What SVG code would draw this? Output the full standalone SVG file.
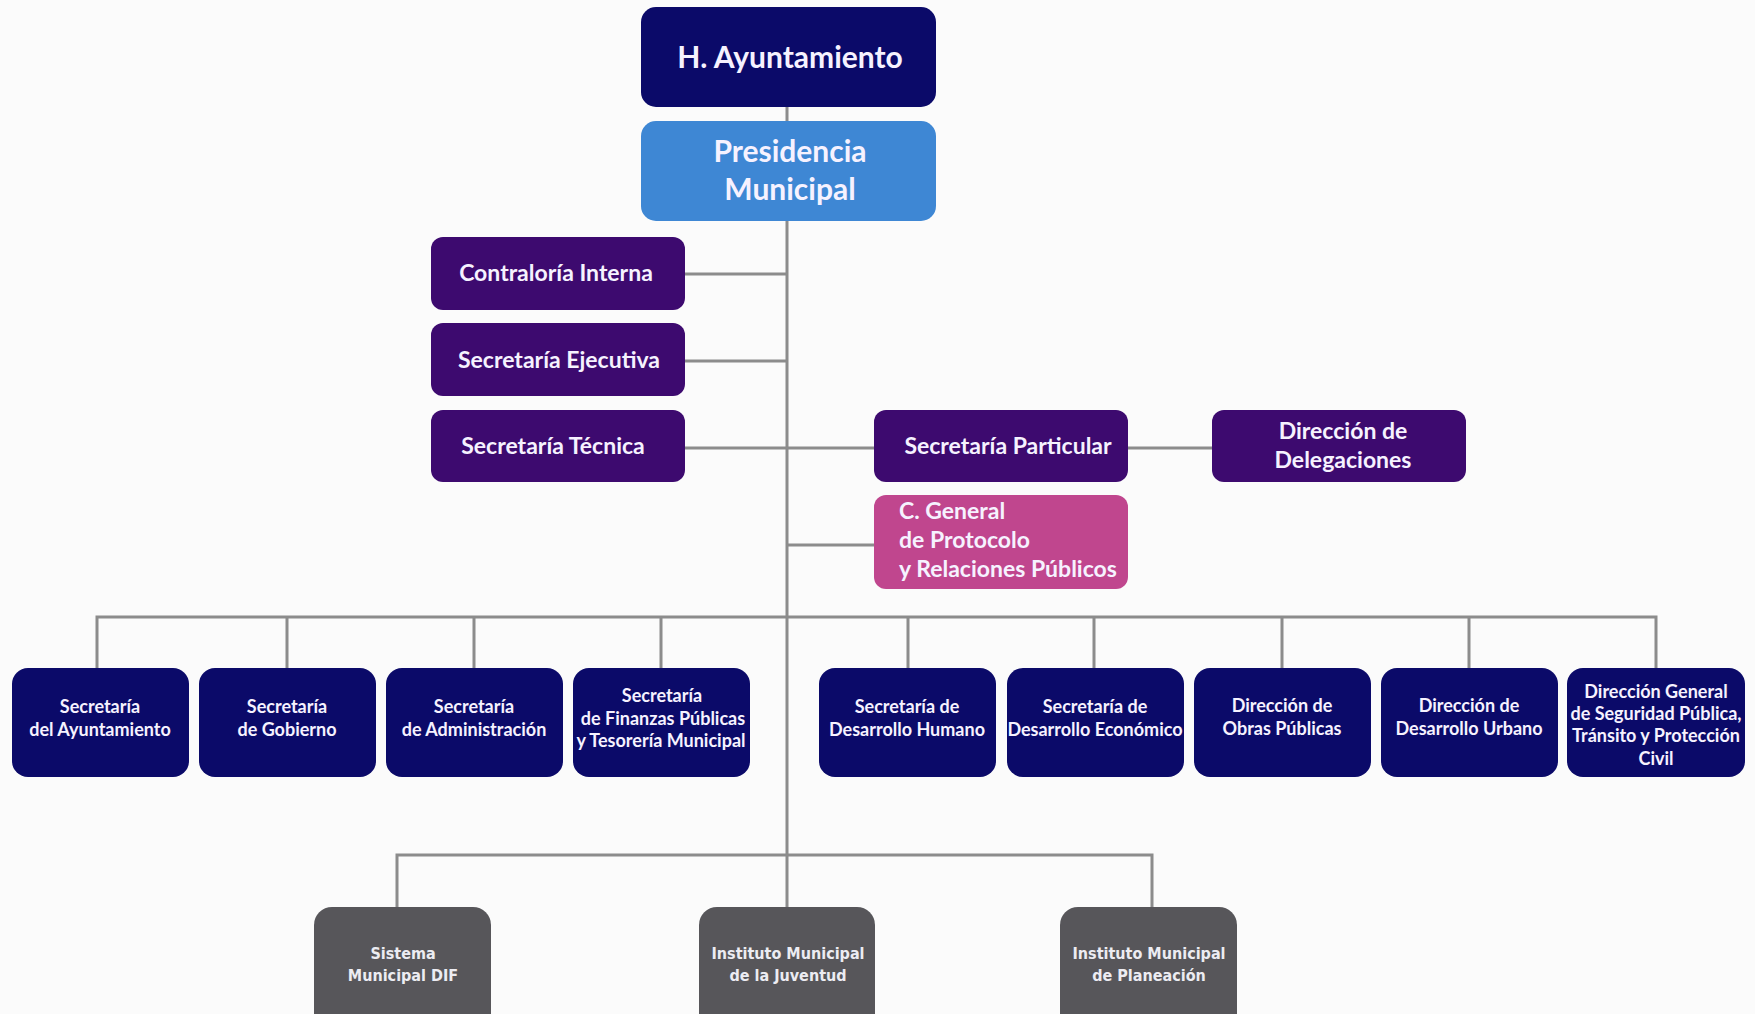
<svg xmlns="http://www.w3.org/2000/svg" width="1755" height="1014" viewBox="0 0 1755 1014">
<style>
.bg{fill:#fbfbfb}
.navy{fill:#0b0a69}
.blue{fill:#3e87d4}
.purple{fill:#3d0a6f}
.pink{fill:#c0468e}
.gray{fill:#57565a}
.t{font-family:Lato,"Open Sans","Liberation Sans",sans-serif;font-weight:bold;fill:#f6f2ff;text-anchor:middle}
.t1{font-size:30px}
.t2{font-size:23px}
.t3{font-size:18px}
.tl{text-anchor:start}
.tg{font-family:"DejaVu Sans Condensed","Liberation Sans Narrow","Liberation Sans",sans-serif;font-size:16px;font-weight:bold;fill:#ececf2;text-anchor:middle}
.c{stroke:#8c8c8c;stroke-width:3;fill:none}
</style>
<rect class="bg" x="0" y="0" width="1755" height="1014"/>
<g id="connectors">
<path class="c" d="M787 107V907"/>
<path class="c" d="M685 274H787M685 361H787M685 448H874M1128 448H1212M787 545H874"/>
<path class="c" d="M97 668V617H1656V668M287 617V668M474 617V668M661 617V668M908 617V668M1094 617V668M1282 617V668M1469 617V668"/>
<path class="c" d="M397 907V855H1152V907"/>
</g>
<g id="n-ayuntamiento"><rect class="navy" x="641" y="7" width="295" height="100" rx="15"/><text class="t t1" x="790" y="68">H. Ayuntamiento</text></g>
<g id="n-presidencia"><rect class="blue" x="641" y="121" width="295" height="100" rx="15"/><text class="t t1" x="790" y="162">Presidencia</text><text class="t t1" x="790" y="200">Municipal</text></g>
<g id="n-contraloria"><rect class="purple" x="431" y="237" width="254" height="73" rx="12"/><text class="t t2" x="556" y="281">Contraloría Interna</text></g>
<g id="n-ejecutiva"><rect class="purple" x="431" y="323" width="254" height="73" rx="12"/><text class="t t2" x="559" y="368">Secretaría Ejecutiva</text></g>
<g id="n-tecnica"><rect class="purple" x="431" y="410" width="254" height="72" rx="12"/><text class="t t2" x="553" y="454">Secretaría Técnica</text></g>
<g id="n-particular"><rect class="purple" x="874" y="410" width="254" height="72" rx="12"/><text class="t t2" x="1008" y="454">Secretaría Particular</text></g>
<g id="n-delegaciones"><rect class="purple" x="1212" y="410" width="254" height="72" rx="12"/><text class="t t2" x="1343" y="439">Dirección de</text><text class="t t2" x="1343" y="468">Delegaciones</text></g>
<g id="n-protocolo"><rect class="pink" x="874" y="495" width="254" height="94" rx="12"/><text class="t t2 tl" x="899" y="519">C. General</text><text class="t t2 tl" x="899" y="548">de Protocolo</text><text class="t t2 tl" x="899" y="577">y Relaciones Públicos</text></g>
<g id="n-sec-ayuntamiento"><rect class="navy" x="12" y="668" width="177" height="109" rx="16"/><text class="t t3" x="100" y="713">Secretaría</text><text class="t t3" x="100" y="736">del Ayuntamiento</text></g>
<g id="n-gobierno"><rect class="navy" x="199" y="668" width="177" height="109" rx="16"/><text class="t t3" x="287" y="713">Secretaría</text><text class="t t3" x="287" y="736">de Gobierno</text></g>
<g id="n-administracion"><rect class="navy" x="386" y="668" width="177" height="109" rx="16"/><text class="t t3" x="474" y="713">Secretaría</text><text class="t t3" x="474" y="736">de Administración</text></g>
<g id="n-finanzas"><rect class="navy" x="573" y="668" width="177" height="109" rx="16"/><text class="t t3" x="662" y="702">Secretaría</text><text class="t t3" x="663" y="725">de Finanzas Públicas</text><text class="t t3" x="661" y="747">y Tesorería Municipal</text></g>
<g id="n-humano"><rect class="navy" x="819" y="668" width="177" height="109" rx="16"/><text class="t t3" x="907" y="713">Secretaría de</text><text class="t t3" x="907" y="736">Desarrollo Humano</text></g>
<g id="n-economico"><rect class="navy" x="1007" y="668" width="177" height="109" rx="16"/><text class="t t3" x="1095" y="713">Secretaría de</text><text class="t t3" x="1095" y="736">Desarrollo Económico</text></g>
<g id="n-obras"><rect class="navy" x="1194" y="668" width="177" height="109" rx="16"/><text class="t t3" x="1282" y="712">Dirección de</text><text class="t t3" x="1282" y="735">Obras Públicas</text></g>
<g id="n-urbano"><rect class="navy" x="1381" y="668" width="177" height="109" rx="16"/><text class="t t3" x="1469" y="712">Dirección de</text><text class="t t3" x="1469" y="735">Desarrollo Urbano</text></g>
<g id="n-seguridad"><rect class="navy" x="1567" y="668" width="178" height="109" rx="16"/><text class="t t3" x="1656" y="698">Dirección General</text><text class="t t3" x="1656" y="720">de Seguridad Pública,</text><text class="t t3" x="1656" y="742">Tránsito y Protección</text><text class="t t3" x="1656" y="765">Civil</text></g>
<g id="n-dif"><rect class="gray" x="314" y="907" width="177" height="130" rx="18"/><text class="tg" x="403" y="959">Sistema</text><text class="tg" x="403" y="981">Municipal DIF</text></g>
<g id="n-juventud"><rect class="gray" x="699" y="907" width="176" height="130" rx="18"/><text class="tg" x="788" y="959">Instituto Municipal</text><text class="tg" x="788" y="981">de la Juventud</text></g>
<g id="n-planeacion"><rect class="gray" x="1060" y="907" width="177" height="130" rx="18"/><text class="tg" x="1149" y="959">Instituto Municipal</text><text class="tg" x="1149" y="981">de Planeación</text></g>
</svg>
